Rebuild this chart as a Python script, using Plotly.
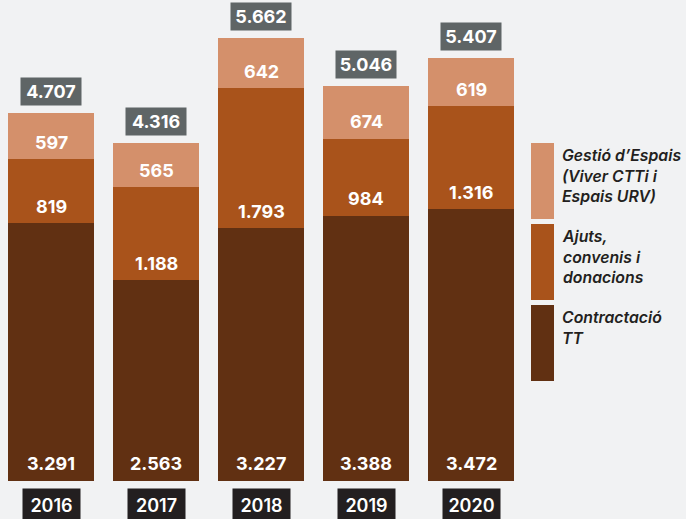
import plotly.graph_objects as go

years = ["2016", "2017", "2018", "2019", "2020"]
contractacio = [3291, 2563, 3227, 3388, 3472]
ajuts = [819, 1188, 1793, 984, 1316]
gestio = [597, 565, 642, 674, 619]
totals = [4707, 4316, 5662, 5046, 5407]

series_names = ["Contractació<br>TT", "Ajuts,<br>convenis i<br>donacions",
                "Gestió d’Espais<br>(Viver CTTi i<br>Espais URV)"]
colors = ["#613012", "#a9531b", "#d4906b"]

W, H = 686, 519
FONT = "Inter"

def fmt(v):
    return f"{v:,}".replace(",", ".")

# axis mapping (pixel layout)
px_per_cat = 105.0
x0_px = 51.0
xr0 = -x0_px / px_per_cat
xr1 = xr0 + W / px_per_cat
bottom_px = 480.7
units_per_px = 1 / 0.07819
yr0 = -(H - bottom_px) * units_per_px
yr1 = yr0 + H * units_per_px

xs = list(range(len(years)))
fig = go.Figure()
for vals, col in zip([contractacio, ajuts, gestio], colors):
    fig.add_trace(go.Bar(x=xs, y=vals, marker=dict(color=col, line=dict(width=0)),
                         width=86 / px_per_cat, hoverinfo="skip", showlegend=False))

ann = []
for i in xs:
    bases = [0, contractacio[i], contractacio[i] + ajuts[i]]
    for b, v in zip(bases, [contractacio[i], ajuts[i], gestio[i]]):
        ann.append(dict(x=i, y=b, yshift=17, text=fmt(v), showarrow=False,
                        xref="x", yref="y", yanchor="middle",
                        font=dict(family=FONT, size=18, color="white", weight=700)))
    ann.append(dict(x=i, y=totals[i], yshift=21.5, text=fmt(totals[i]), showarrow=False,
                    xref="x", yref="y", yanchor="middle", bgcolor="#5f6566",
                    width=58, height=25, borderpad=1,
                    font=dict(family=FONT, size=18, color="white", weight=700)))
    ann.append(dict(x=i, y=0, yshift=-24.5, text=years[i], showarrow=False,
                    xref="x", yref="y", yanchor="middle", bgcolor="#231f20",
                    width=55, height=30, borderpad=1,
                    font=dict(family=FONT, size=18, color="white", weight=600)))

def px(x):
    return x / W

def py(y):
    return 1 - y / H

shapes = []
leg = [(143, 219), (224, 300), (305, 381)]
for (t, b), col, name in zip(leg, colors[::-1], series_names[::-1]):
    shapes.append(dict(type="rect", xref="paper", yref="paper", x0=px(531), x1=px(554),
                       y0=py(b), y1=py(t), fillcolor=col, line=dict(width=0), layer="above"))
    ann.append(dict(x=px(560), y=py(t + 1), xref="paper", yref="paper", xanchor="left",
                    yanchor="top", align="left", showarrow=False, text=f"<i>{name}</i>",
                    font=dict(family=FONT, size=15.8, color="#231f20", weight=600)))

fig.update_layout(
    width=W, height=H, barmode="stack",
    margin=dict(l=0, r=0, t=0, b=0),
    paper_bgcolor="#f1f2f3", plot_bgcolor="#f1f2f3",
    xaxis=dict(range=[xr0, xr1], visible=False, fixedrange=True),
    yaxis=dict(range=[yr0, yr1], visible=False, fixedrange=True),
    annotations=ann, shapes=shapes, showlegend=False,
)
fig.write_html("out.html", config={"displayModeBar": False},
               post_script="document.body.style.margin='0';document.body.style.overflow='hidden';")
